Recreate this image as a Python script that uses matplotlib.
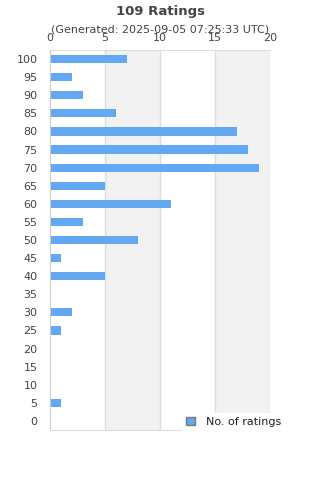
import matplotlib
matplotlib.use("Agg")
import matplotlib.pyplot as plt
from matplotlib.patches import Patch

ratings = [100, 95, 90, 85, 80, 75, 70, 65, 60, 55, 50, 45, 40, 35, 30, 25, 20, 15, 10, 5, 0]
counts = [7, 2, 3, 6, 17, 18, 19, 5, 11, 3, 8, 1, 5, 0, 2, 1, 0, 0, 0, 1, 0]
xticks = [0, 5, 10, 15, 20]

bar_color = "#62a8f3"
text_color = "#444444"

fig = plt.figure(figsize=(3.2, 4.8), dpi=100)
ax = fig.add_axes([50/320, 1-430/480, 220/320, 380/480])

n = len(ratings)
ypos = [n - 1 - i for i in range(n)]
ax.set_xlim(0, 20)
ax.set_ylim(-0.5, n - 0.5)

# alternating bands
for i in range(len(xticks) - 1):
    if i % 2 == 1:
        ax.axvspan(xticks[i], xticks[i + 1], color="#f2f2f2", zorder=0, lw=0)
for x in xticks[1:]:
    ax.axvline(x, color="#dddddd", lw=1, zorder=1)

ax.barh(ypos, counts, height=0.45, color=bar_color, zorder=2)

ax.set_yticks(ypos)
ax.set_yticklabels([str(r) for r in ratings], fontsize=8, color=text_color)
ax.set_xticks(xticks)
ax.set_xticklabels([str(x) for x in xticks], fontsize=8, color=text_color)
ax.xaxis.tick_top()
ax.tick_params(axis="both", length=0)
ax.tick_params(axis="y", pad=9)
ax.tick_params(axis="x", pad=5)
ax.spines["right"].set_visible(False)
ax.spines["top"].set_color("#dddddd")
ax.spines["left"].set_color("#cccccc")
ax.spines["bottom"].set_color("#dddddd")

fig.text(0.5, 1 - 11/480, "109 Ratings", ha="center", va="center",
         fontsize=9.5, fontweight="bold", color=text_color)
fig.text(0.5, 1 - 30/480, "(Generated: 2025-09-05 07:25:33 UTC)", ha="center",
         va="center", fontsize=8, color=text_color)

handle = Patch(facecolor=bar_color, edgecolor="#777777", lw=1)
leg = fig.legend([handle], ["No. of ratings"], loc="center left",
                 bbox_to_anchor=(176/320, 1 - 422/480), frameon=True,
                 fancybox=False, fontsize=8, handlelength=0.8, handleheight=0.8,
                 handletextpad=1.0, borderpad=0.4, labelcolor="#222222")
leg.get_frame().set_facecolor("white")
leg.get_frame().set_edgecolor("white")
leg.get_frame().set_alpha(1)

fig.savefig("out.png", dpi=100)
